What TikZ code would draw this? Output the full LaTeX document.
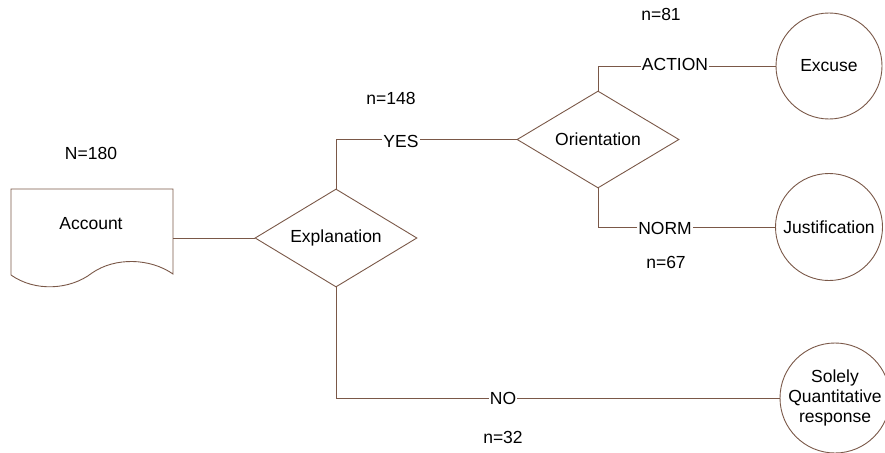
\documentclass[tikz,border=0pt]{standalone}
\usepackage{fontspec}
\setmainfont{Liberation Sans}
\usetikzlibrary{shapes.geometric}
\definecolor{linebrown}{RGB}{122,88,72}
\begin{document}
\begin{tikzpicture}[x=1pt,y=-1pt,
  every node/.style={font=\fontsize{17.5}{20}\selectfont},
  link/.style={draw=linebrown,line width=0.9pt},
  decision/.style={diamond,draw=linebrown,line width=0.9pt,inner sep=0pt,aspect=1.65},
  outcome/.style={circle,draw=linebrown,line width=0.9pt,inner sep=0pt,align=center},
  lbl/.style={fill=white,inner sep=1pt},
  count/.style={inner sep=0pt}]
\useasboundingbox (0,0) rectangle (885,452);

% document shape with a wavy lower edge
\coordinate (accTL) at (11,189);
\coordinate (accTR) at (173,189);
\coordinate (accBR) at (173,274);
\coordinate (accBL) at (11,275);
\draw[link] (accBL) -- (accTL) -- (accTR) -- (accBR)
  .. controls (150,258) and (115,257) .. (92,273)
  .. controls (70,290) and (35,292) .. (accBL);
\node (acc) at (91,224) {Account};
\coordinate (accE) at (173,238);
\node[count] (N) at (91,153) {N=180};

% decisions
\node[decision,minimum width=162pt,minimum height=98pt] (expl) at (336,238) {Explanation};
\node[decision,minimum width=162pt,minimum height=97pt] (orient) at (598,139.5) {Orientation};

% outcomes
\node[outcome,minimum size=106pt] (excuse) at (829,66) {Excuse};
\node[outcome,minimum size=107pt] (just) at (829,227) {Justification};
\node[outcome,minimum size=110pt] (solely) at (835,398) {Solely\\Quantitative\\response};

% connectors
\draw[link] (accE) -- (expl.west);
\draw[link] (expl.north) |- (orient.west);
\draw[link] (orient.north) |- (excuse.west);
\draw[link] (orient.south) |- (just.west);
\draw[link] (expl.south) |- (solely.west);

% branch labels
\node[lbl] (yes) at (401,141) {YES};
\node[lbl] (action) at (675,64) {ACTION};
\node[lbl] (norm) at (665,228) {NORM};
\node[lbl] (no) at (503,398) {NO};

% counts
\node[count] (n148) at (391,98) {n=148};
\node[count] (n81) at (661,14) {n=81};
\node[count] (n67) at (666,262) {n=67};
\node[count] (n32) at (503,437) {n=32};
\end{tikzpicture}
\end{document}
